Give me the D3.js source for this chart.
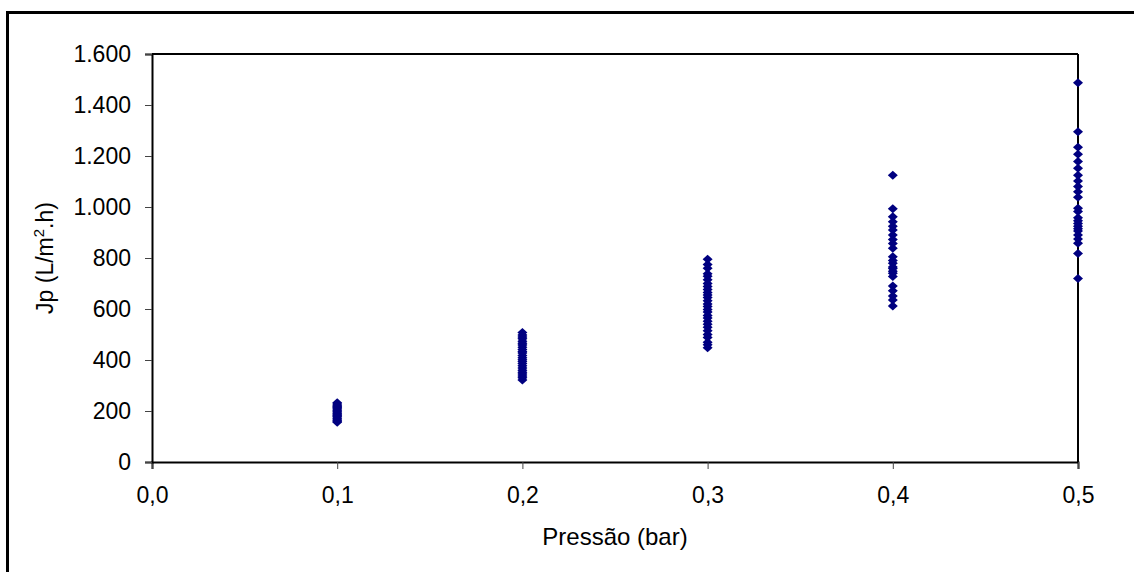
<!DOCTYPE html>
<html>
<head>
<meta charset="utf-8">
<script src="https://cdn.jsdelivr.net/npm/d3@7"></script>
<style>
  body { margin: 0; background: #fff; }
  svg { display: block; font-family: "Liberation Sans", Arial, sans-serif; }
</style>
</head>
<body>
<div id="chart"></div>
<script>
// pressure levels (bar) and measured flux Jp (L/m2.h) read at each level
var pressures = [0.1, 0.2, 0.3, 0.4, 0.5];
var jp01 = [232, 227, 223, 218, 214, 209, 204, 200, 196, 191, 187, 182, 178, 173, 169, 164, 160, 156];
var jp02 = [508, 498, 490, 483, 474, 466, 459, 450, 441, 433, 427, 418, 409, 401, 394, 386, 377, 369, 360, 352, 345, 337, 330, 322];
var jp03 = [795, 775, 760, 738, 728, 715, 700, 688, 676, 665, 655, 645, 632, 620, 610, 598, 588, 575, 565, 552, 540, 528, 515, 500, 488, 470, 460, 448];
var jp04 = [1125, 993, 962, 942, 925, 910, 890, 873, 857, 838, 805, 790, 779, 765, 759, 748, 740, 727, 690, 672, 651, 635, 612];
var jp05 = [1487, 1295, 1234, 1207, 1178, 1152, 1125, 1102, 1080, 1060, 1038, 995, 982, 958, 946, 935, 925, 915, 906, 890, 875, 858, 818, 720];

var xTicks = [0, 0.1, 0.2, 0.3, 0.4, 0.5];
var yTicks = [0, 200, 400, 600, 800, 1000, 1200, 1400, 1600];

var series = [jp01, jp02, jp03, jp04, jp05];
var points = [];
series.forEach(function(vals, i){
  vals.forEach(function(v){ points.push({p: pressures[i], jp: v}); });
});

var W = 1134, H = 572;
var margin = {top: 54, right: 56, bottom: 110, left: 152};
var width = W - margin.left - margin.right, height = H - margin.top - margin.bottom;

var pt = d3.formatLocale({decimal: ",", thousands: ".", grouping: [3], currency: ["", ""]});

var svg = d3.select("#chart").append("svg")
    .attr("width", W)
    .attr("height", H);

// outer frame, runs off the right and bottom edges
svg.append("rect")
    .attr("x", 7.5).attr("y", 12.5)
    .attr("width", W + 20).attr("height", H + 20)
    .attr("fill", "#fff")
    .attr("stroke", "#000")
    .attr("stroke-width", 3);

var g = svg.append("g")
    .attr("transform", "translate(" + margin.left + "," + margin.top + ")");

var x = d3.scaleLinear().domain([0, 0.5]).range([0, width]);
var y = d3.scaleLinear().domain([0, 1600]).range([height, 0]);

var x_axis = d3.axisBottom(x).tickValues(xTicks).tickSize(7).tickPadding(18)
    .tickFormat(function(d){ return pt.format(".1f")(d); });
var y_axis = d3.axisLeft(y).tickValues(yTicks).tickSize(7).tickPadding(14)
    .tickFormat(function(d){ return pt.format(",")(d); });

// plot box top / right edges
g.append("line").attr("x1", 0).attr("x2", width).attr("y1", 0).attr("y2", 0)
    .attr("stroke", "#000").attr("stroke-width", 2);
g.append("line").attr("x1", width).attr("x2", width).attr("y1", 0).attr("y2", height)
    .attr("stroke", "#000").attr("stroke-width", 2);

var xg = g.append("g")
    .attr("class", "x axis")
    .attr("transform", "translate(0," + height + ")")
    .call(x_axis);

var yg = g.append("g")
    .attr("class", "y axis")
    .call(y_axis);

[xg, yg].forEach(function(a){
  a.select(".domain").attr("stroke", "#000").attr("stroke-width", 2);
  a.selectAll(".tick line").attr("stroke", "#444").attr("stroke-width", 1);
  a.selectAll(".tick text").attr("fill", "#000").style("font-size", "23px");
});

g.selectAll("path.pt")
    .data(points)
    .enter().append("path")
    .attr("class", "pt")
    .attr("transform", function(d){ return "translate(" + x(d.p) + "," + y(d.jp) + ")"; })
    .attr("d", "M0,-4.5L5,0L0,4.5L-5,0Z")
    .attr("fill", "#000080");

// axis titles
svg.append("text")
    .attr("x", margin.left + width / 2)
    .attr("y", 545)
    .attr("text-anchor", "middle")
    .style("font-size", "24px")
    .text("Pressão (bar)");

var yt = svg.append("text")
    .attr("transform", "translate(53," + (margin.top + height / 2) + ") rotate(-90)")
    .attr("text-anchor", "middle")
    .style("font-size", "23px");
yt.append("tspan").text("Jp (L/m");
yt.append("tspan").attr("dy", -9).style("font-size", "15px").text("2");
yt.append("tspan").attr("dy", 9).text(".h)");
</script>
</body>
</html>
